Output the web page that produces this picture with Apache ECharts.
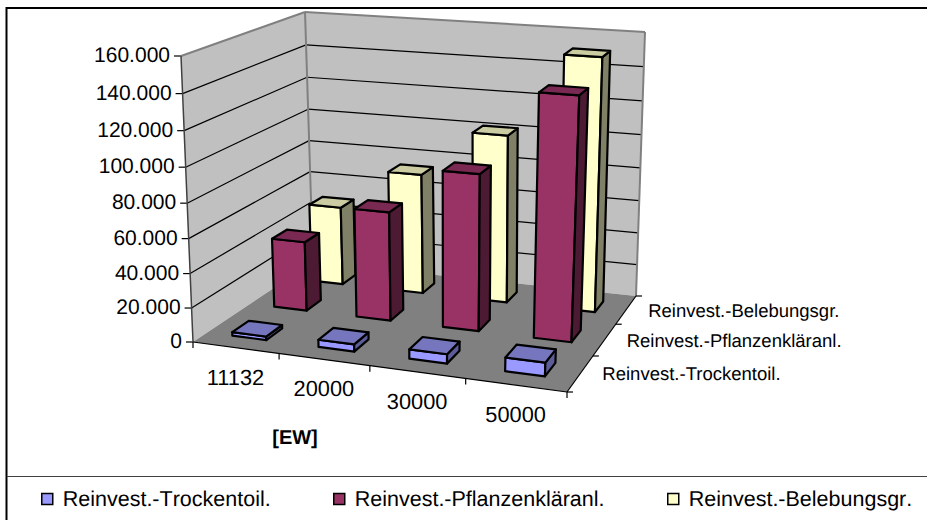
<!DOCTYPE html>
<html><head><meta charset="utf-8">
<style>html,body{margin:0;padding:0;background:#fff}#c{width:927px;height:520px}#c text{font-kerning:none;text-rendering:geometricPrecision}</style>
<script src="https://cdn.jsdelivr.net/npm/echarts@6/dist/echarts.min.js"></script>
</head><body><div id="c"></div>
<script>
const categories = ['11132','20000','30000','50000'];
const seriesNames = ['Reinvest.-Trockentoil.','Reinvest.-Pflanzenkläranl.','Reinvest.-Belebungsgr.'];
const trockentoil = [2100,4200,5400,7800];
const pflanzen = [42000,65000,92000,140000];
const belebung = [49000,74000,102000,151000];
const yTicks = [0,20000,40000,60000,80000,100000,120000,140000,160000];
const yLabels = ['0','20.000','40.000','60.000','80.000','100.000','120.000','140.000','160.000'];
const xAxisTitle = '[EW]';

const FONT = '"Liberation Sans", Arial, sans-serif';
const N = categories.length, D = seriesNames.length, YMAX = 160000;

// perspective camera: the corners of the plot box as seen on the page
function quadMap(p){
  const [[x0,y0],[x1,y1],[x2,y2],[x3,y3]] = p;
  const dx1=x1-x2, dx2=x3-x2, dy1=y1-y2, dy2=y3-y2, sx=x0-x1+x2-x3, sy=y0-y1+y2-y3;
  const det=dx1*dy2-dx2*dy1;
  const g=(sx*dy2-dx2*sy)/det, h=(dx1*sy-sx*dy1)/det;
  const a=x1-x0+g*x1, b=x3-x0+h*x3, c=x0, d=y1-y0+g*y1, e=y3-y0+h*y3, f=y0;
  return (u,v)=>{const w=g*u+h*v+1;return [(a*u+b*v+c)/w,(d*u+e*v+f)/w];};
}
const floorMap = quadMap([[193,342],[567,392],[636,296],[313,262]]);
const ceilMap  = quadMap([[181,56],[580,87],[645,32],[305,12]]);
const K = 0.06;
function project(un,vn,hn){
  const a=floorMap(un,vn), b=ceilMap(un,vn);
  const t=hn/(1+K-K*hn);
  return [a[0]+(b[0]-a[0])*t, a[1]+(b[1]-a[1])*t];
}
// turn axis values into normalised box coordinates through the chart's own scales
function scales(params,api){
  const r=params.coordSys;
  const h=val=>(r.y+r.height-api.coord([0,val])[1])/r.height;
  const band=api.size([1,0])[0];
  const u=(cat,frac)=>(api.coord([cat,0])[0]-r.x+band*(frac-0.5))/r.width;
  return {h,u};
}
const BW=0.4, DW=0.38;
function barRender(depth,front,top,side){
  return function(params,api){
    const {h,u}=scales(params,api);
    const cat=api.value(0), val=api.value(1);
    const u0=u(cat,0.5-BW/2), u1=u(cat,0.5+BW/2);
    const v0=(depth+0.5-DW/2)/D, v1=(depth+0.5+DW/2)/D;
    const hv=h(val);
    const P=project;
    const s={lineWidth:2.2,stroke:'#000',lineJoin:'round'};
    const poly=(pts,fill)=>({type:'polygon',shape:{points:pts},style:Object.assign({fill},s)});
    return {type:'group',children:[
      poly([P(u0,v0,0),P(u1,v0,0),P(u1,v0,hv),P(u0,v0,hv)],front),
      poly([P(u1,v0,0),P(u1,v1,0),P(u1,v1,hv),P(u1,v0,hv)],side),
      poly([P(u0,v0,hv),P(u1,v0,hv),P(u1,v1,hv),P(u0,v1,hv)],top)
    ]};
  };
}
function boxRender(params,api){
  const {h,u}=scales(params,api);
  const U0=u(0,0), U1=u(N-1,1);
  const P=project, ch=[];
  const line=(a,b,stroke,lw)=>ch.push({type:'line',shape:{x1:a[0],y1:a[1],x2:b[0],y2:b[1]},style:{stroke,lineWidth:lw}});
  const poly=(pts,fill)=>ch.push({type:'polygon',shape:{points:pts},style:{fill}});
  const txt=(p,t,size,align,weight)=>ch.push({type:'text',x:p[0],y:p[1],style:{text:t,font:(weight||'normal')+' '+size+'px '+FONT,fill:'#000',align,verticalAlign:'middle'}});
  poly([P(U0,0,0),P(U0,1,0),P(U0,1,1),P(U0,0,1)],'#C0C0C0');
  poly([P(U0,1,0),P(U1,1,0),P(U1,1,1),P(U0,1,1)],'#C0C0C0');
  poly([P(U0,0,0),P(U1,0,0),P(U1,1,0),P(U0,1,0)],'#808080');
  yTicks.forEach((t,i)=>{
    const hv=h(t), a=P(U0,0,hv), b=P(U0,1,hv), c=P(U1,1,hv);
    if(i>0&&i<yTicks.length-1){line(a,b,'#000',1.2);line(b,c,'#000',1.2);}
    line([a[0]-7,a[1]],a,'#000',1.2);
    txt([a[0]-11,a[1]-0.5],yLabels[i],21,'right');
  });
  line(P(U0,0,1),P(U0,1,1),'#808080',2);
  line(P(U0,1,1),P(U1,1,1),'#808080',2);
  line(P(U1,1,1),P(U1,1,0),'#808080',2);
  line(P(U0,1,1),P(U0,1,0),'#808080',2);
  line(P(U0,0,0),P(U0,0,1),'#404040',1.5);
  line(P(U0,0,0),P(U1,0,0),'#000',1.2);
  line(P(U1,0,0),P(U1,1,0),'#000',1.2);
  for(let i=0;i<=N;i++){
    const a=P(U0+(U1-U0)*i/N,0,0);
    line(a,[a[0],a[1]+6],'#000',1.2);
  }
  for(let j=0;j<=D;j++){
    const a=P(U1,j/D,0);
    line(a,[a[0]+6,a[1]],'#000',1.2);
  }
  categories.forEach((c,i)=>{
    const a=P(U0+(U1-U0)*(i+.5)/N,0,0);
    txt([a[0],a[1]+29.5],c,21.8,'center');
  });
  seriesNames.forEach((n,j)=>{
    const a=P(U1,(j+.5)/D,0);
    txt([a[0]+22,a[1]+0.5],n,18.5,'left');
  });
  txt([295,438],xAxisTitle,20,'center','bold');
  return {type:'group',children:ch};
}
const row=vals=>vals.map((v,i)=>[i,v]);
const barColors=[['#9999FF','#7676BF','#5C5C99'],['#993366','#7A2952','#4D1A33'],['#FFFFCC','#CCCCA3','#808066']];
const valueSets=[trockentoil,pflanzen,belebung];
const legendLeft=[41,333,667];
const chart=echarts.init(document.getElementById('c'),null,{renderer:'svg'});
chart.setOption({
  animation:false,backgroundColor:'#fff',
  grid:{left:0,right:0,top:0,bottom:0,containLabel:false},
  xAxis:{type:'category',data:categories,show:false},
  yAxis:{type:'value',min:0,max:YMAX,interval:20000,show:false},
  legend:seriesNames.map((n,j)=>({left:legendLeft[j],top:488,padding:0,itemWidth:11,itemHeight:11,icon:'rect',selectedMode:false,
    data:[{name:n,itemStyle:{color:barColors[j][0],borderColor:'#000',borderWidth:1.5}}],
    textStyle:{fontFamily:FONT,fontSize:21.5,color:'#000',padding:[0,0,0,5]}})),
  graphic:[
    {type:'rect',z:0,shape:{x:6.5,y:8,width:940,height:530},style:{fill:'none',stroke:'#000',lineWidth:2},silent:true},
    {type:'line',z:0,shape:{x1:7,y1:476.5,x2:927,y2:476.5},style:{stroke:'#404040',lineWidth:1},silent:true}
  ],
  series:[
    {type:'custom',name:'box',z:1,silent:true,data:[[0,0]],renderItem:boxRender},
    ...[2,1,0].map(j=>({type:'custom',name:seriesNames[j],z:3-(j-1),silent:true,
      itemStyle:{color:barColors[j][0]},
      data:row(valueSets[j]),encode:{x:0,y:1},
      renderItem:barRender(j,barColors[j][0],barColors[j][1],barColors[j][2])}))
  ]
});
</script></body></html>
